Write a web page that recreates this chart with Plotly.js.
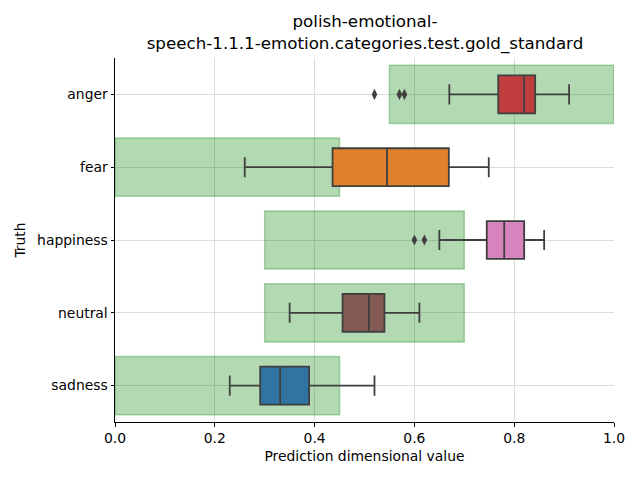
<!DOCTYPE html>
<html>
<head>
<meta charset="utf-8">
<script src="https://cdn.plot.ly/plotly-3.0.1.min.js"></script>
<style>body{margin:0;padding:0;}#chart{width:640px;height:480px;}</style>
</head>
<body>
<div id="chart"></div>
<script>
// Categories (top to bottom)
const categories = ['anger', 'fear', 'happiness', 'neutral', 'sadness'];
// Gold-standard ranges (green bands)
const goldLow  = [0.55, 0.00, 0.30, 0.30, 0.00];
const goldHigh = [1.00, 0.45, 0.70, 0.70, 0.45];
// Box statistics
const lowerFence = [0.67, 0.26, 0.65, 0.35, 0.23];
const q1         = [0.768, 0.436, 0.745, 0.456, 0.291];
const medians    = [0.82, 0.545, 0.78, 0.509, 0.331];
const q3         = [0.842, 0.669, 0.82, 0.54, 0.389];
const upperFence = [0.91, 0.749, 0.86, 0.61, 0.52];
const boxColors  = ['#c03d3e', '#e1812c', '#d684bd', '#845b53', '#3274a1'];
// Outliers
const outlierCats = ['anger', 'anger', 'anger', 'happiness', 'happiness'];
const outlierVals = [0.52, 0.57, 0.58, 0.60, 0.62];

const traces = [];
traces.push({
  type: 'bar', orientation: 'h',
  y: categories,
  x: goldHigh.map((h, i) => h - goldLow[i]),
  base: goldLow,
  width: 0.8,
  marker: {color: 'rgba(0,128,0,0.3)', line: {color: 'rgba(0,128,0,0.3)', width: 1.5}},
  hoverinfo: 'skip', showlegend: false
});
categories.forEach((c, i) => {
  traces.push({
    type: 'box', orientation: 'h',
    y: [c], q1: [q1[i]], median: [medians[i]], q3: [q3[i]],
    lowerfence: [lowerFence[i]], upperfence: [upperFence[i]],
    width: 0.52, whiskerwidth: 0.53,
    fillcolor: boxColors[i],
    line: {color: '#3f3f3f', width: 1.8},
    showlegend: false
  });
});
traces.push({
  type: 'scatter', mode: 'markers',
  y: outlierCats, x: outlierVals,
  marker: {symbol: 'diamond-tall', size: 8, color: '#3f3f3f'},
  showlegend: false
});

const font = {family: 'DejaVu Sans', size: 13.9, color: '#000'};
const layout = {
  width: 640, height: 480,
  margin: {l: 115, r: 26, t: 58, b: 58},
  paper_bgcolor: '#fff', plot_bgcolor: '#fff',
  font: font,
  barmode: 'overlay', boxmode: 'overlay',
  title: {
    text: 'polish-emotional-<br>speech-1.1.1-emotion.categories.test.gold_standard',
    font: {family: 'DejaVu Sans', size: 16.7, color: '#000'},
    x: 0.5703, xanchor: 'center', y: 0.944, yanchor: 'top'
  },
  xaxis: {
    range: [0, 1], tickvals: [0, 0.2, 0.4, 0.6, 0.8, 1.0], tickformat: '.1f',
    showgrid: true, gridcolor: '#dcdcdc', gridwidth: 0.8,
    showline: true, linecolor: '#000', linewidth: 1,
    ticks: 'outside', ticklen: 3.5, tickcolor: '#000',
    zeroline: false,
    title: {text: 'Prediction dimensional value', font: font, standoff: 6}
  },
  yaxis: {
    type: 'category', categoryorder: 'array', categoryarray: categories,
    range: [4.5, -0.5],
    showgrid: true, gridcolor: '#dcdcdc', gridwidth: 0.8,
    showline: true, linecolor: '#000', linewidth: 1,
    ticks: 'outside', ticklen: 3.5, tickcolor: '#000',
    zeroline: false,
    title: {text: 'Truth', font: font, standoff: 8}
  }
};
Plotly.newPlot('chart', traces, layout, {displayModeBar: false});
</script>
</body>
</html>
